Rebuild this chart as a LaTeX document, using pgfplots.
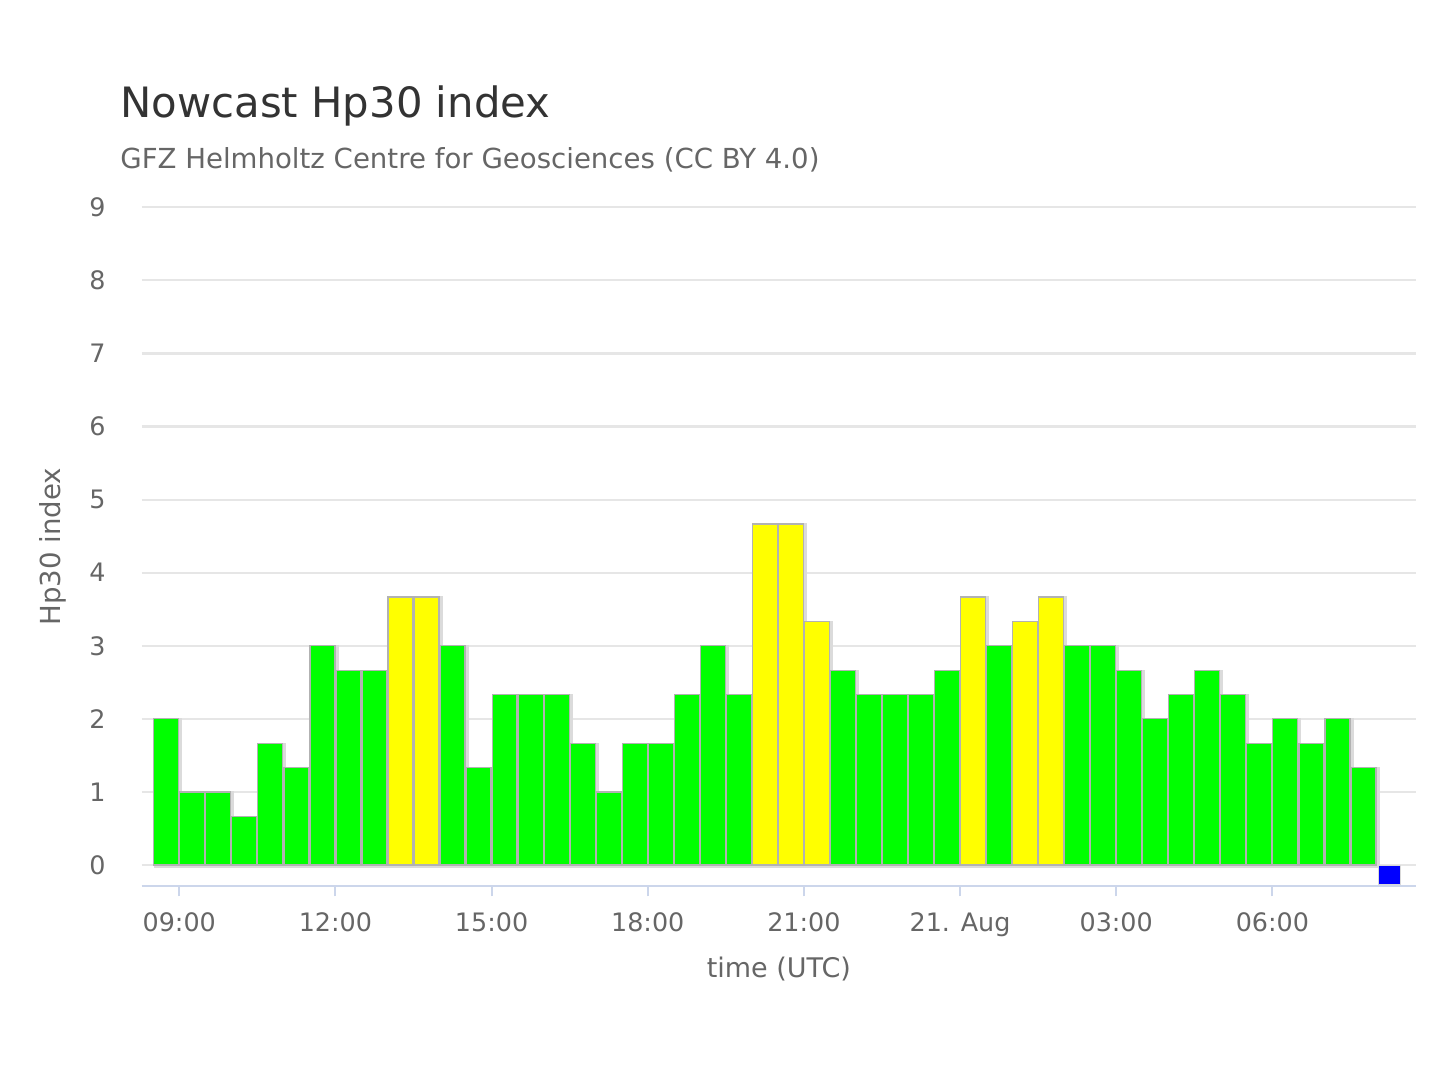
\documentclass[border=0pt]{standalone}
\usepackage{fontspec}
\setmainfont{DejaVu Sans}
\usepackage{pgfplots}
\pgfplotsset{compat=1.18}
\definecolor{titlec}{HTML}{333333}
\definecolor{labc}{HTML}{666666}
\definecolor{gridc}{HTML}{E6E6E6}
\definecolor{axc}{HTML}{CCD6EB}
\definecolor{hgreen}{HTML}{00FF00}
\definecolor{hyellow}{HTML}{FFFF00}
\definecolor{hblue}{HTML}{0000FF}
\begin{document}
\begin{tikzpicture}
\useasboundingbox (0,0) rectangle (720pt,540pt);
\begin{axis}[
  at={(70.85pt,96.75pt)}, anchor=south west,
  scale only axis, width=637.15pt, height=339.6pt,
  xmin=-0.722, xmax=23.76, ymin=-0.294, ymax=9,
  axis lines*=left,
  x axis line style={draw=axc, line width=1pt},
  y axis line style={draw=none},
  ytick={0,1,...,9},
  ymajorgrids, grid style={draw=gridc, line width=1.1pt},
  xtick={0,3,6,9,12,15,18,21},
  xticklabels={09:00,12:00,15:00,18:00,21:00,21. Aug,03:00,06:00},
  tick align=outside, major tick length=5pt,
  xtick style={draw=axc, line width=1pt},
  ytick style={draw=none},
  /pgf/number format/assume math mode=true,
  tick label style={font=\fontsize{12.7}{15}\selectfont, text=labc},
  yticklabel style={xshift=-9.5pt},
  xticklabel style={yshift=-4.5pt},
  xlabel={time (UTC)}, ylabel={Hp30 index},
  every axis x label/.style={at={(axis description cs:0.5,0)}, anchor=base, yshift=-45.75pt, font=\fontsize{13.5}{16}\selectfont, text=labc},
  every axis y label/.style={at={(axis description cs:0,0.5)}, xshift=-44.5pt, rotate=90, anchor=center, font=\fontsize{13.8}{16}\selectfont, text=labc},
  clip=false,
]
% shadow
\addplot[ybar, bar width=0.48, bar shift=0pt, fill=black!14, draw=black!14, line width=1.6pt, xshift=1pt, yshift=-0.5pt] coordinates {
(-0.25,2) (0.25,1) (0.75,1) (1.25,0.667) (1.75,1.667) (2.25,1.333) (2.75,3) (3.25,2.667) (3.75,2.667) (4.25,3.667) (4.75,3.667) (5.25,3) (5.75,1.333) (6.25,2.333) (6.75,2.333) (7.25,2.333) (7.75,1.667) (8.25,1) (8.75,1.667) (9.25,1.667) (9.75,2.333) (10.25,3) (10.75,2.333) (11.25,4.667) (11.75,4.667) (12.25,3.333) (12.75,2.667) (13.25,2.333) (13.75,2.333) (14.25,2.333) (14.75,2.667) (15.25,3.667) (15.75,3) (16.25,3.333) (16.75,3.667) (17.25,3) (17.75,3) (18.25,2.667) (18.75,2) (19.25,2.333) (19.75,2.667) (20.25,2.333) (20.75,1.667) (21.25,2) (21.75,1.667) (22.25,2) (22.75,1.333)
};
% green (Hp30 < 3.33)
\addplot[ybar, bar width=0.48, bar shift=0pt, fill=hgreen, draw=black!30, line width=0.6pt] coordinates {
(-0.25,2) (0.25,1) (0.75,1) (1.25,0.667) (1.75,1.667) (2.25,1.333) (2.75,3) (3.25,2.667) (3.75,2.667) (5.25,3) (5.75,1.333) (6.25,2.333) (6.75,2.333) (7.25,2.333) (7.75,1.667) (8.25,1) (8.75,1.667) (9.25,1.667) (9.75,2.333) (10.25,3) (10.75,2.333) (12.75,2.667) (13.25,2.333) (13.75,2.333) (14.25,2.333) (14.75,2.667) (15.75,3) (17.25,3) (17.75,3) (18.25,2.667) (18.75,2) (19.25,2.333) (19.75,2.667) (20.25,2.333) (20.75,1.667) (21.25,2) (21.75,1.667) (22.25,2) (22.75,1.333)
};
% yellow
\addplot[ybar, bar width=0.48, bar shift=0pt, fill=hyellow, draw=black!30, line width=0.6pt] coordinates {
(4.25,3.667) (4.75,3.667) (11.25,4.667) (11.75,4.667) (12.25,3.333) (15.25,3.667) (16.25,3.333) (16.75,3.667)
};
% blue (current, no value yet)
\addplot[ybar, bar width=0.44, bar shift=0pt, fill=hblue, draw=black!15, line width=0.5pt] coordinates {
(23.25,-0.27)
};
\end{axis}
\node[anchor=base west, inner sep=0pt, text=titlec, font=\fontsize{20.9}{24}\selectfont] at (60pt,481.25pt) {Nowcast Hp30 index};
\node[anchor=base west, inner sep=0pt, text=labc, font=\fontsize{13.8}{16}\selectfont] at (60pt,455.5pt) {GFZ Helmholtz Centre for Geosciences (CC BY 4.0)};
\end{tikzpicture}
\end{document}
